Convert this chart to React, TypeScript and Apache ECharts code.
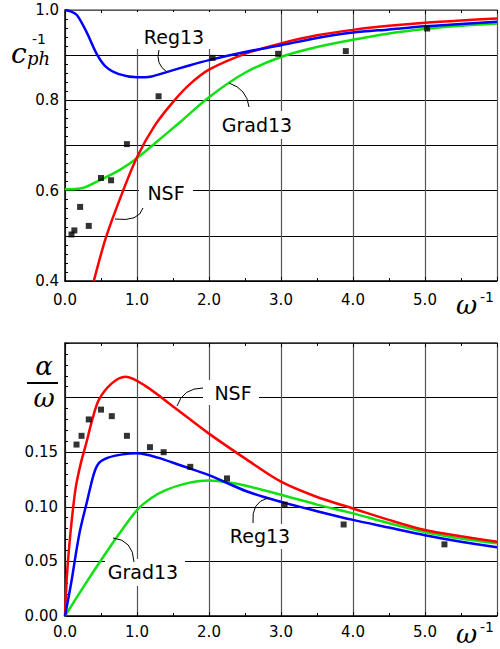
import React, { useEffect, useRef } from "react";
import * as echarts from "echarts";

// ---- Top panel: inverse phase speed c_ph^-1 vs ω^-1 ----
const topReg13: [number, number][] = [
  [0, 1.0], [0.08, 0.997], [0.17, 0.988], [0.3, 0.951], [0.44, 0.903], [0.57, 0.874],
  [0.75, 0.858], [1.0, 0.851], [1.2, 0.853], [1.4, 0.862], [1.7, 0.876], [2.0, 0.889],
  [2.5, 0.907], [3.0, 0.922], [3.5, 0.938], [4.0, 0.95], [4.5, 0.957], [5.0, 0.964],
  [5.5, 0.969], [6.0, 0.974],
];
const topNSF: [number, number][] = [
  [0.4, 0.4], [0.57, 0.497], [0.79, 0.593], [1.0, 0.674], [1.25, 0.745], [1.52, 0.8],
  [1.75, 0.838], [2.0, 0.868], [2.5, 0.903], [3.0, 0.926], [3.5, 0.944], [4.0, 0.956],
  [4.5, 0.965], [5.0, 0.972], [5.5, 0.977], [6.0, 0.981],
];
const topGrad13: [number, number][] = [
  [0, 0.603], [0.25, 0.606], [0.48, 0.623], [0.75, 0.645], [1.0, 0.672], [1.25, 0.705],
  [1.6, 0.752], [2.0, 0.807], [2.5, 0.861], [3.0, 0.896], [3.5, 0.918], [4.0, 0.934],
  [4.5, 0.948], [5.0, 0.958], [5.5, 0.965], [6.0, 0.97],
];
const topExp: [number, number][] = [
  [0.09, 0.503], [0.13, 0.512], [0.21, 0.564], [0.33, 0.522], [0.5, 0.628], [0.64, 0.623],
  [0.86, 0.703], [1.3, 0.809], [2.05, 0.894], [2.96, 0.903], [3.9, 0.909], [5.03, 0.959],
];

// ---- Bottom panel: attenuation α/ω vs ω^-1 ----
const botNSF: [number, number][] = [
  [0, 0], [0.03, 0.04], [0.085, 0.082], [0.15, 0.118], [0.22, 0.14], [0.29, 0.157],
  [0.38, 0.18], [0.47, 0.198], [0.65, 0.213], [0.84, 0.219], [1.11, 0.211], [1.52, 0.191],
  [2.0, 0.167], [2.53, 0.143], [3.0, 0.123], [3.5, 0.109], [4.0, 0.0985], [4.5, 0.088],
  [5.0, 0.0787], [5.5, 0.073], [6.0, 0.068],
];
const botReg13: [number, number][] = [
  [0, 0], [0.085, 0.03], [0.2, 0.0756], [0.31, 0.106], [0.4, 0.13], [0.47, 0.14],
  [0.6, 0.145], [0.8, 0.148], [1.0, 0.149], [1.29, 0.145], [1.6, 0.138], [2.0, 0.129],
  [2.53, 0.114], [3.0, 0.1045], [3.5, 0.096], [4.0, 0.088], [4.5, 0.081], [5.0, 0.074],
  [5.5, 0.068], [6.0, 0.063],
];
const botGrad13: [number, number][] = [
  [0, 0], [0.25, 0.026], [0.5, 0.051], [0.75, 0.075], [1.0, 0.097], [1.2, 0.108],
  [1.39, 0.115], [1.66, 0.121], [2.0, 0.124], [2.3, 0.122], [2.53, 0.119], [3.0, 0.111],
  [3.5, 0.102], [4.0, 0.094], [4.5, 0.085], [5.0, 0.077], [5.5, 0.071], [6.0, 0.0665],
];
const botExp: [number, number][] = [
  [0.16, 0.157], [0.23, 0.165], [0.33, 0.18], [0.5, 0.189], [0.65, 0.183], [0.86, 0.165],
  [1.18, 0.1546], [1.37, 0.15], [1.74, 0.1366], [2.25, 0.126], [3.05, 0.102], [3.87, 0.0838],
  [5.27, 0.0656],
];

const RED = "#ff0000";
const BLUE = "#0000ff";
const GREEN = "#11e011";
const SANS = "DejaVu Sans";
const SERIF = "DejaVu Serif";

function lineSeries(data: [number, number][], color: string, xi: number, yi: number) {
  return {
    type: "line",
    data,
    xAxisIndex: xi,
    yAxisIndex: yi,
    showSymbol: false,
    smooth: 0.3,
    lineStyle: { color, width: 2.5 },
    z: 3,
  };
}
function scatterSeries(data: [number, number][], xi: number, yi: number) {
  return {
    type: "scatter",
    data,
    xAxisIndex: xi,
    yAxisIndex: yi,
    symbol: "rect",
    symbolSize: 6,
    itemStyle: { color: "#000" },
    z: 4,
  };
}

function xAxisDef(gridIndex: number, position: string, withLabels: boolean, lineColor: string) {
  return {
    type: "value",
    gridIndex,
    position,
    min: 0,
    max: 6,
    interval: 1,
    axisLine: { show: true, onZero: false, lineStyle: { color: lineColor, width: 1.5 } },
    axisTick: { show: true, inside: true, length: 4, lineStyle: { color: "#000" } },
    minorTick: { show: true, splitNumber: 2, length: 3, lineStyle: { color: "#000" } },
    splitLine: { show: withLabels, lineStyle: { color: "#555", width: 1.2 } },
    axisLabel: {
      show: withLabels,
      fontFamily: SANS,
      fontSize: 15,
      color: "#000",
      margin: gridIndex === 0 ? 11 : 8,
      formatter: (v: number) => (v <= 5 ? v.toFixed(1) : ""),
    },
  };
}

function bez(x1: number, y1: number, cx: number, cy: number, x2: number, y2: number) {
  return {
    type: "bezierCurve",
    shape: { x1, y1, cpx1: cx, cpy1: cy, x2, y2 },
    style: { stroke: "#000", lineWidth: 1, fill: "none" },
    z: 10,
  };
}
function box(x: number, y: number, w: number, h: number) {
  return { type: "rect", shape: { x, y, width: w, height: h }, style: { fill: "#fff" }, z: 9 };
}
function label(text: string, x: number, y: number) {
  return {
    type: "text",
    z: 11,
    style: {
      text, x, y, fontSize: 19, fontFamily: SANS, fill: "#000",
      align: "center", verticalAlign: "middle",
    },
  };
}
function mtext(
  text: string, x: number, y: number, size: number, italicSerif: boolean, align = "left",
) {
  return {
    type: "text",
    z: 11,
    style: {
      text, x, y, fill: "#000", align, verticalAlign: "middle",
      fontSize: size,
      fontFamily: italicSerif ? SERIF : SANS,
      fontStyle: italicSerif ? "italic" : "normal",
    },
  };
}

export default function App() {
  const ref = useRef<HTMLDivElement>(null);
  useEffect(() => {
    if (!ref.current) return;
    const chart = echarts.init(ref.current, undefined, { renderer: "svg" });
    chart.setOption({
      animation: false,
      backgroundColor: "#fff",
      grid: [
        { left: 65, top: 10, width: 440, height: 271 },
        { left: 65, top: 343, width: 440, height: 273 },
      ],
      xAxis: [
        xAxisDef(0, "bottom", true, "#000"),
        xAxisDef(0, "top", false, "#777"),
        xAxisDef(1, "bottom", true, "#000"),
        xAxisDef(1, "top", false, "#333"),
      ],
      yAxis: [
        {
          type: "value",
          gridIndex: 0,
          min: 0.4,
          max: 1.0,
          interval: 0.1,
          axisLine: { show: true, onZero: false, lineStyle: { color: "#000", width: 1.5 } },
          axisTick: { show: true, inside: true, length: 4, lineStyle: { color: "#000" } },
          minorTick: { show: true, splitNumber: 5, length: 3, lineStyle: { color: "#000" } },
          splitLine: { show: true, lineStyle: { color: "#000", width: 1 } },
          axisLabel: {
            fontFamily: SANS,
            fontSize: 15,
            color: "#000",
            margin: 6,
            formatter: (v: number) => (Math.round(v * 10) % 2 === 0 ? v.toFixed(1) : ""),
          },
        },
        {
          type: "value",
          gridIndex: 1,
          min: 0,
          max: 0.25,
          interval: 0.05,
          axisLine: { show: true, onZero: false, lineStyle: { color: "#000", width: 1.5 } },
          axisTick: { show: true, inside: true, length: 4, lineStyle: { color: "#000" } },
          minorTick: { show: true, splitNumber: 5, length: 3, lineStyle: { color: "#000" } },
          splitLine: { show: true, lineStyle: { color: "#000", width: 1 } },
          axisLabel: {
            fontFamily: SANS,
            fontSize: 15,
            color: "#000",
            margin: 7,
            formatter: (v: number) => (v <= 0.151 ? v.toFixed(2) : ""),
          },
        },
      ],
      series: [
        lineSeries(topGrad13, GREEN, 0, 0),
        lineSeries(topNSF, RED, 0, 0),
        lineSeries(topReg13, BLUE, 0, 0),
        scatterSeries(topExp, 0, 0),
        lineSeries(botGrad13, GREEN, 2, 1),
        lineSeries(botNSF, RED, 2, 1),
        lineSeries(botReg13, BLUE, 2, 1),
        scatterSeries(botExp, 2, 1),
      ],
      graphic: [
        // top panel annotations
        box(136, 12, 78, 37),
        label("Reg13", 174, 37),
        bez(159, 50, 155, 64, 167, 72),
        box(139, 182, 54, 24),
        label("NSF", 166, 193),
        bez(143, 208, 139, 222, 115, 219),
        box(220, 111, 75, 28),
        label("Grad13", 257, 125),
        bez(249, 107, 247, 89, 229, 83),
        // top axis titles
        mtext("c", 11, 53, 28, true),
        mtext("ph", 27, 58, 18, true),
        mtext("-1", 32, 39, 14, false),
        mtext("ω", 456, 305, 26, true),
        mtext("-1", 480, 297, 14, false),
        // bottom panel annotations
        box(203, 380, 56, 25),
        label("NSF", 233, 393),
        bez(203, 388, 183, 388, 177, 406),
        box(229, 524, 63, 25),
        label("Reg13", 260, 536),
        bez(253, 523, 251, 502, 268, 498),
        box(105, 559, 80, 27),
        label("Grad13", 143, 572),
        bez(134, 562, 133, 540, 113, 538),
        // bottom axis titles
        mtext("α", 44, 366, 26, true, "center"),
        {
          type: "line",
          shape: { x1: 27, y1: 383, x2: 58, y2: 383 },
          style: { stroke: "#000", lineWidth: 2 },
          z: 11,
        },
        mtext("ω", 44, 398, 26, true, "center"),
        mtext("ω", 456, 634, 26, true),
        mtext("-1", 480, 627, 14, false),
      ],
    });
    return () => chart.dispose();
  }, []);
  return (
    <div
      ref={ref}
      style={{ position: "absolute", left: 0, top: 0, width: 500, height: 649 }}
    />
  );
}
